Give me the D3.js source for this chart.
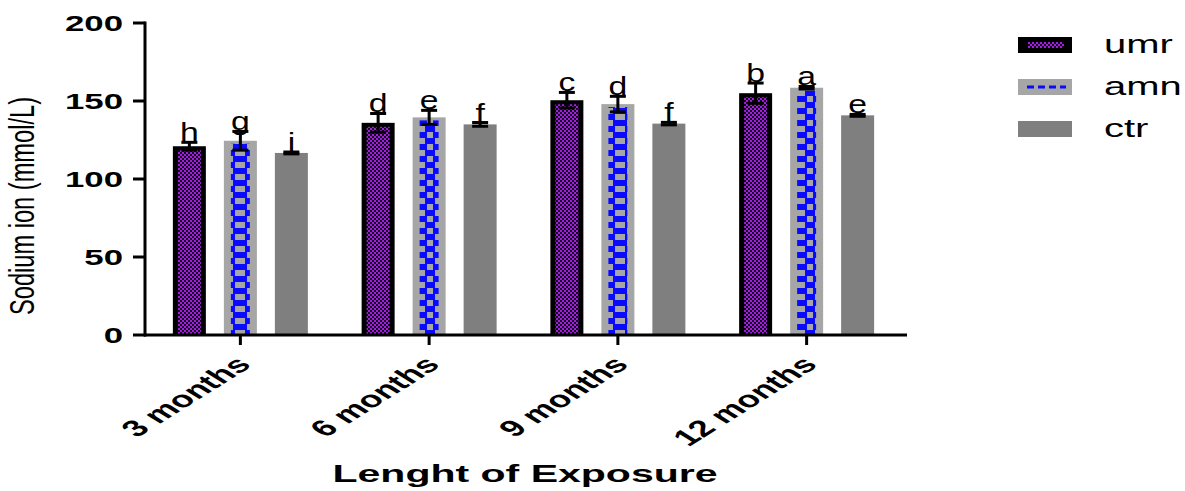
<!DOCTYPE html>
<html>
<head>
<meta charset="utf-8">
<script src="https://cdn.jsdelivr.net/npm/d3@7"></script>
<style>
  body { margin: 0; background: #fff; }
  text { font-family: "Liberation Sans", Arial, sans-serif; fill: #000; }
</style>
</head>
<body>
<div id="chart"></div>
<script>
// chart values
var groups = ["3 months", "6 months", "9 months", "12 months"];
var series = ["umr", "amn", "ctr"];
var umrMean = [121, 136, 150.5, 155];
var umrErr = [2.5, 6, 5, 6.5];
var amnMean = [124.5, 139.5, 148, 158.5];
var amnErr = [6, 4.5, 5, 0.8];
var ctrMean = [116.7, 135, 135.5, 140.8];
var ctrErr = [0.6, 1.2, 0.8, 0.6];
var umrLetters = ["h", "d", "c", "b"];
var amnLetters = ["g", "e", "d", "a"];
var ctrLetters = ["i", "f", "f", "e"];
var yTicks = [0, 50, 100, 150, 200];

var W = 1185, H = 491;

var svg = d3.select("#chart").append("svg")
  .attr("width", W)
  .attr("height", H);

var defs = svg.append("defs");

// purple checker for umr
var pUmr = defs.append("pattern")
  .attr("id", "umrPat")
  .attr("patternUnits", "userSpaceOnUse")
  .attr("width", 4).attr("height", 4);
pUmr.append("rect").attr("width", 4).attr("height", 4).attr("fill", "#a020e0");
pUmr.append("rect").attr("width", 2).attr("height", 2).attr("fill", "#1a0022");
pUmr.append("rect").attr("x", 2).attr("y", 2).attr("width", 2).attr("height", 2).attr("fill", "#1a0022");

// blue checker for amn
var pAmn = defs.append("pattern")
  .attr("id", "amnPat")
  .attr("patternUnits", "userSpaceOnUse")
  .attr("width", 20).attr("height", 12);
pAmn.append("rect").attr("width", 20).attr("height", 12).attr("fill", "#a6a6a6");
pAmn.append("rect").attr("x", 0).attr("y", 0).attr("width", 7).attr("height", 6).attr("fill", "#0a0aff");
pAmn.append("rect").attr("x", 13).attr("y", 0).attr("width", 7).attr("height", 6).attr("fill", "#0a0aff");
pAmn.append("rect").attr("x", 5).attr("y", 6).attr("width", 10).attr("height", 6).attr("fill", "#0a0aff");

var data = series.map(function(s, si) {
  var m = [umrMean, amnMean, ctrMean][si];
  var e = [umrErr, amnErr, ctrErr][si];
  var l = [umrLetters, amnLetters, ctrLetters][si];
  return groups.map(function(g, gi) {
    return {series: s, group: g, mean: m[gi], err: e[gi], letter: l[gi]};
  });
});
var flat = [].concat.apply([], data);

var x0 = d3.scaleBand().domain(groups).range([146, 901]);
var x1 = d3.scaleBand().domain(series).range([-67.5, 67.5]).paddingInner(0.353);
var y = d3.scaleLinear().domain([0, 200]).range([335, 23]);

function cx(d) { return x0(d.group) + x0.bandwidth() / 2 + x1(d.series) + x1.bandwidth() / 2; }
function bx(d) { return x0(d.group) + x0.bandwidth() / 2 + x1(d.series); }

var bw = x1.bandwidth();

// bars
var bars = svg.append("g").selectAll("g")
  .data(flat)
  .enter().append("g");

bars.append("rect")
  .attr("x", bx)
  .attr("y", function(d) { return y(d.mean); })
  .attr("width", bw)
  .attr("height", function(d) { return y(0) - y(d.mean); })
  .attr("fill", function(d) {
    return d.series === "umr" ? "#000" : (d.series === "amn" ? "#a6a6a6" : "#7f7f7f");
  });

bars.filter(function(d) { return d.series === "umr"; })
  .append("rect")
  .attr("x", function(d) { return bx(d) + 5; })
  .attr("y", function(d) { return y(d.mean) + 4; })
  .attr("width", bw - 10)
  .attr("height", function(d) { return y(0) - y(d.mean) - 4; })
  .attr("fill", "url(#umrPat)");

bars.filter(function(d) { return d.series === "amn"; })
  .append("rect")
  .attr("x", function(d) { return bx(d) + 7; })
  .attr("y", function(d) { return y(d.mean) + 3; })
  .attr("width", bw - 14)
  .attr("height", function(d) { return y(0) - y(d.mean) - 3; })
  .attr("fill", "url(#amnPat)");

// error bars
var eb = svg.append("g").attr("stroke", "#000").attr("stroke-width", 3);
flat.forEach(function(d) {
  var c = cx(d);
  eb.append("line")
    .attr("x1", c).attr("x2", c)
    .attr("y1", y(d.mean - d.err)).attr("y2", y(d.mean + d.err));
  eb.append("line")
    .attr("x1", c - 8).attr("x2", c + 8)
    .attr("y1", y(d.mean + d.err)).attr("y2", y(d.mean + d.err));
  eb.append("line")
    .attr("x1", c - 8).attr("x2", c + 8)
    .attr("y1", y(d.mean - d.err)).attr("y2", y(d.mean - d.err));
});

// significance letters
svg.append("g").selectAll("text")
  .data(flat)
  .enter().append("text")
  .attr("transform", function(d) {
    return "translate(" + cx(d) + "," + (y(d.mean + d.err) - 1) + ") scale(1.35,1)";
  })
  .attr("text-anchor", "middle")
  .style("font-size", "25px")
  .text(function(d) { return d.letter; });

// y axis
var yAxis = svg.append("g");
yAxis.append("line")
  .attr("x1", 145).attr("x2", 145)
  .attr("y1", y(200) - 1.5).attr("y2", y(0) + 1.5)
  .attr("stroke", "#000").attr("stroke-width", 3);
yAxis.selectAll(".tick")
  .data(yTicks)
  .enter().append("line")
  .attr("x1", 133).attr("x2", 145)
  .attr("y1", function(d) { return y(d); })
  .attr("y2", function(d) { return y(d); })
  .attr("stroke", "#000").attr("stroke-width", 3);
yAxis.selectAll("text")
  .data(yTicks)
  .enter().append("text")
  .attr("transform", function(d) { return "translate(123," + (y(d) + 8) + ") scale(1.58,1)"; })
  .attr("text-anchor", "end")
  .style("font-size", "22px")
  .style("font-weight", "bold")
  .text(function(d) { return d; });

// x axis
var xAxis = svg.append("g");
xAxis.append("line")
  .attr("x1", 144).attr("x2", 907)
  .attr("y1", y(0)).attr("y2", y(0))
  .attr("stroke", "#000").attr("stroke-width", 3);
xAxis.selectAll(".tick")
  .data(groups)
  .enter().append("line")
  .attr("x1", function(d) { return x0(d) + x0.bandwidth() / 2; })
  .attr("x2", function(d) { return x0(d) + x0.bandwidth() / 2; })
  .attr("y1", y(0)).attr("y2", y(0) + 10)
  .attr("stroke", "#000").attr("stroke-width", 3);
xAxis.selectAll("text")
  .data(groups)
  .enter().append("text")
  .attr("transform", function(d) {
    return "translate(" + (x0(d) + x0.bandwidth() / 2 + 12) + ",366) scale(1.6,1) rotate(-45)";
  })
  .attr("text-anchor", "end")
  .style("font-size", "23px")
  .style("font-weight", "bold")
  .text(function(d) { return d; });

// axis titles
svg.append("text")
  .attr("x", 525).attr("y", 482)
  .attr("text-anchor", "middle")
  .attr("textLength", 385)
  .attr("lengthAdjust", "spacingAndGlyphs")
  .style("font-size", "24px")
  .style("font-weight", "bold")
  .text("Lenght of Exposure");

svg.append("text")
  .attr("transform", "translate(34,206) scale(1.55,1) rotate(-90)")
  .attr("text-anchor", "middle")
  .attr("textLength", 218)
  .attr("lengthAdjust", "spacingAndGlyphs")
  .style("font-size", "23px")
  .text("Sodium ion (mmol/L)");

// legend
var legend = svg.append("g");
var legFill = ["#000", "#a6a6a6", "#7f7f7f"];
series.forEach(function(s, i) {
  var ly = 37 + i * 42;
  legend.append("rect")
    .attr("x", 1018).attr("y", ly)
    .attr("width", 54).attr("height", 16)
    .attr("fill", legFill[i]);
  if (s === "umr") {
    legend.append("rect")
      .attr("x", 1028).attr("y", ly + 5)
      .attr("width", 36).attr("height", 6)
      .attr("fill", "url(#umrPat)");
  }
  if (s === "amn") {
    legend.append("line")
      .attr("x1", 1027).attr("x2", 1066)
      .attr("y1", ly + 8).attr("y2", ly + 8)
      .attr("stroke", "#0a0aff").attr("stroke-width", 3)
      .attr("stroke-dasharray", "7,4");
  }
  legend.append("text")
    .attr("transform", "translate(1104," + (ly + 16) + ") scale(1.6,1)")
    .style("font-size", "25px")
    .text(s);
});
</script>
</body>
</html>
